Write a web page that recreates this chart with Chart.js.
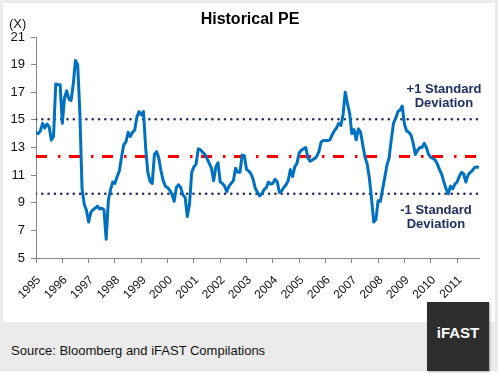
<!DOCTYPE html>
<html>
<head>
<meta charset="utf-8">
<script src="https://cdn.jsdelivr.net/npm/chart.js@4"></script>
<style>
  body { margin: 0; background: #fff; font-family: 'Liberation Sans', Arial, sans-serif; }
  #frame { position: absolute; left: 0; top: 0; width: 498px; height: 371px; background: #ebebeb; }
  #inner { position: absolute; left: 3px; top: 3px; width: 492px; height: 319px; background: #fff; }
  #chart { position: absolute; left: 0; top: 0; }
  .txt { position: absolute; white-space: nowrap; }
  #title { left: 0; width: 500px; top: 10px; text-align: center; font-weight: bold; font-size: 16px; color: #000; }
  #unit { left: 9px; top: 16px; font-size: 13px; color: #111; }
  .sd { font-weight: bold; font-size: 13px; color: #1f2d62; text-align: center; line-height: 13.5px; }
  #source { left: 11px; top: 343px; font-size: 13px; color: #111; }
  #logo { position: absolute; left: 427px; top: 302px; width: 62px; height: 69px; background: #2d2d2d;
          box-shadow: 1px 1px 2px rgba(0,0,0,0.35); color: #fff; font-weight: bold; font-size: 15px;
          text-align: center; line-height: 62px; }
</style>
</head>
<body>
<div id="frame"><div id="inner"></div></div>
<canvas id="chart" width="500" height="300"></canvas>
<div class="txt" id="title">Historical PE</div>
<div class="txt" id="unit">(X)</div>
<div class="txt sd" style="left:404px; top:82px; width:80px;">+1 Standard<br>Deviation</div>
<div class="txt sd" style="left:396px; top:203px; width:80px;">-1 Standard<br>Deviation</div>
<div class="txt" id="source">Source: Bloomberg and iFAST Compilations</div>
<div id="logo">iFAST</div>
<script>
'use strict';

// ===== データ（1995年1月〜2011年11月、月次） =====
const startYear = 1995;
const yearLabels = ['1995', '1996', '1997', '1998', '1999', '2000', '2001', '2002',
  '2003', '2004', '2005', '2006', '2007', '2008', '2009', '2010', '2011'];

const peValues = [
  14.1, 14.0, 14.2, 14.75, 14.4, 14.7, 14.5, 13.55, 13.8, 17.6, 17.55, 17.55,   // 1995
  14.75, 16.6, 17.1, 16.5, 16.4, 17.6, 19.3, 19.0, 15.5, 10.0, 8.9, 8.45,       // 1996
  7.6, 8.3, 8.5, 8.6, 8.75, 8.55, 8.6, 8.5, 6.35, 9.2, 9.95, 10.5,              // 1997
  10.4, 10.9, 11.3, 12.3, 13.2, 13.4, 14.1, 13.8, 14.1, 14.25, 15.2, 15.6,      // 1998
  15.35, 15.6, 13.0, 11.2, 10.55, 10.4, 12.5, 12.7, 12.2, 11.3, 10.6, 10.2,     // 1999
  10.1, 9.9, 9.6, 9.1, 10.1, 10.3, 10.1, 9.55, 9.4, 8.0, 8.9, 11.2,             // 2000
  11.6, 11.8, 12.9, 12.85, 12.65, 12.5, 12.2, 11.85, 11.5, 10.6, 11.6, 11.9,    // 2001
  10.5, 10.4, 10.2, 9.8, 10.2, 10.4, 10.6, 11.5, 11.2, 11.2, 12.45, 12.4,       // 2002
  11.4, 11.3, 11.1, 10.7, 10.05, 9.75, 9.5, 9.65, 9.95, 10.1, 10.5, 10.35,      // 2003
  10.4, 10.7, 10.5, 9.75, 9.85, 10.1, 10.3, 10.6, 11.4, 10.9, 11.6, 11.85,      // 2004
  12.6, 12.8, 12.9, 13.0, 12.25, 12.0, 12.1, 12.2, 12.35, 12.7, 13.4, 13.5,     // 2005
  13.5, 13.5, 13.55, 13.9, 14.2, 14.4, 14.75, 14.6, 15.35, 17.0, 16.2, 15.5,    // 2006
  14.0, 14.3, 13.55, 14.35, 14.1, 13.2, 12.3, 11.8, 10.8, 9.3, 7.6, 7.8,        // 2007
  9.15, 9.1, 9.95, 10.8, 11.7, 12.25, 13.55, 14.75, 15.1, 15.6, 15.7, 16.0,     // 2008
  14.7, 14.2, 14.1, 13.9, 13.3, 12.5, 12.8, 13.0, 13.0, 13.3, 13.0, 12.5,       // 2009
  12.3, 12.2, 12.1, 11.8, 11.4, 11.05, 10.5, 10.0, 9.65, 10.2, 10.0, 10.35,     // 2010
  10.5, 10.9, 11.2, 11.1, 10.5, 11.0, 11.2, 11.35, 11.55, 11.6, 11.55,          // 2011
];

const plusOneSd  = 15.05;
const meanPe     = 12.35;
const minusOneSd = 9.65;

const yTicks = [5, 7, 9, 11, 13, 15, 17, 19, 21];

// ===== データセット =====
const lastIdx = peValues.length - 1;
const pePoints = peValues.map((v, i) => ({ x: i, y: v }));
const flatLine = v => [{ x: 0, y: v }, { x: lastIdx, y: v }];

const axisColor = '#868686';
const tickFont = { family: "'Liberation Sans', Arial, sans-serif", size: 13 };

new Chart(document.getElementById('chart'), {
  type: 'line',
  data: {
    datasets: [
      {
        data: pePoints,
        borderColor: '#0070c0',
        borderWidth: 3,
        borderJoinStyle: 'round',
        pointRadius: 0,
        tension: 0,
        order: 0,
      },
      {
        data: flatLine(plusOneSd),
        borderColor: '#1f2d5f',
        borderWidth: 2.6,
        borderDash: [0, 6.3],
        borderCapStyle: 'round',
        pointRadius: 0,
        order: 1,
      },
      {
        data: flatLine(minusOneSd),
        borderColor: '#1f2d5f',
        borderWidth: 2.6,
        borderDash: [0, 6.3],
        borderCapStyle: 'round',
        pointRadius: 0,
        order: 1,
      },
      {
        data: flatLine(meanPe),
        borderColor: '#ff0000',
        borderWidth: 3.2,
        borderDash: [11, 11, 2.5, 8.5],
        pointRadius: 0,
        order: 1,
      },
    ],
  },
  options: {
    responsive: false,
    animation: false,
    devicePixelRatio: 1,
    layout: { padding: { left: 0, top: 37, right: 21, bottom: 0 } },
    plugins: {
      legend: { display: false },
      tooltip: { enabled: false },
    },
    scales: {
      x: {
        type: 'linear',
        min: 0,
        max: lastIdx,
        afterFit: s => { s.height = 42; },
        border: { color: axisColor, width: 1 },
        grid: { drawOnChartArea: false, drawTicks: true, tickLength: 5, color: axisColor },
        ticks: {
          stepSize: 12,
          includeBounds: false,
          autoSkip: false,
          maxRotation: 45,
          minRotation: 45,
          padding: 10,
          labelOffset: 3,
          color: '#111',
          font: { family: tickFont.family, size: 12 },
          callback: v => yearLabels[v / 12] || '',
        },
      },
      y: {
        min: yTicks[0],
        max: yTicks[yTicks.length - 1],
        afterFit: s => { s.width = 36; },
        afterBuildTicks: s => { s.ticks = yTicks.map(v => ({ value: v })); },
        border: { color: axisColor, width: 1 },
        grid: { drawOnChartArea: false, drawTicks: true, tickLength: 5, color: axisColor },
        ticks: {
          padding: 6,
          color: '#111',
          font: tickFont,
        },
      },
    },
  },
});
</script>
</body>
</html>
